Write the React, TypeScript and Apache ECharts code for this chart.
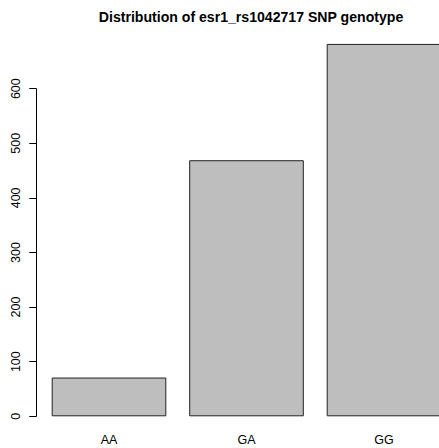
import React, { useEffect, useRef } from "react";
import * as echarts from "echarts";

const categories = ["AA", "GA", "GG"];
const counts = [71, 469, 682];
const yTicks = { min: 0, max: 600, interval: 100 };
const titleText = "Distribution of esr1_rs1042717 SNP genotype";

export default function App() {
  const ref = useRef<HTMLDivElement>(null);
  useEffect(() => {
    if (!ref.current) return;
    const chart = echarts.init(ref.current, null, { renderer: "svg" });
    const font = "'Liberation Sans', Arial, Helvetica, sans-serif";
    chart.setOption({
      animation: false,
      backgroundColor: "#ffffff",
      title: {
        text: titleText,
        left: 246,
        top: 5,
        textAlign: "center",
        textStyle: { fontSize: 14.1, fontWeight: "bold", fontFamily: font, color: "#000" },
      },
      grid: {
        left: 40.25,
        top: 88.7,
        height: 327.6,
        width: 412.5,
        containLabel: false,
        outerBoundsMode: "none",
      },
      xAxis: {
        type: "category",
        data: categories,
        axisLine: { show: false },
        axisTick: { show: false },
        axisLabel: { margin: 18, fontSize: 12.5, lineHeight: 12, fontFamily: font, color: "#000" },
      },
      yAxis: {
        type: "value",
        min: yTicks.min,
        max: yTicks.max,
        interval: yTicks.interval,
        offset: 4,
        splitLine: { show: false },
        axisLine: { show: true, lineStyle: { color: "#000", width: 1 } },
        axisTick: { show: true, length: 7, lineStyle: { color: "#000" } },
        axisLabel: { rotate: 90, margin: 14, fontSize: 12.5, fontFamily: font, color: "#000" },
      },
      series: [
        {
          type: "bar",
          data: counts,
          barWidth: 114.6,
          clip: false,
          itemStyle: { color: "#bebebe", borderColor: "#222", borderWidth: 1 },
        },
      ],
    });
    return () => chart.dispose();
  }, []);
  return (
    <div
      ref={ref}
      style={{ position: "fixed", left: 0, top: 0, width: 439, height: 448 }}
    />
  );
}
